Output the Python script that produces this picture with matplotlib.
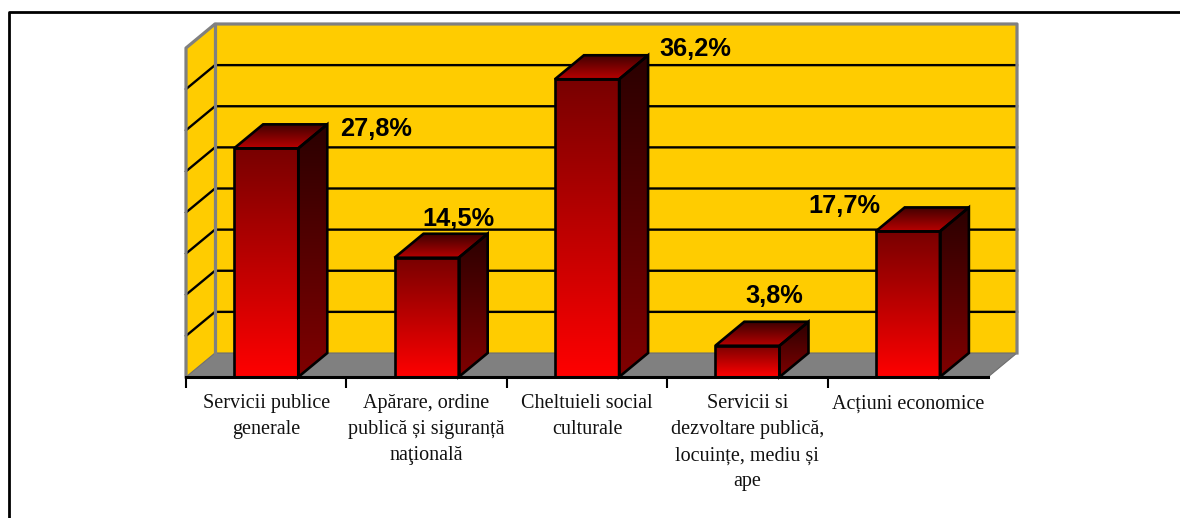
import numpy as np
import matplotlib
matplotlib.use("Agg")
import matplotlib.pyplot as plt
from matplotlib.colors import LinearSegmentedColormap
from matplotlib.patches import Polygon
from matplotlib.lines import Line2D

categories = ["Servicii publice\ngenerale",
              "Apărare, ordine\npublică și siguranță\nnaţională",
              "Cheltuieli social\nculturale",
              "Servicii si\ndezvoltare publică,\nlocuințe, mediu și\nape",
              "Acțiuni economice"]
values = [27.8, 14.5, 36.2, 3.8, 17.7]
value_labels = ["27,8%", "14,5%", "36,2%", "3,8%", "17,7%"]
label_offsets_px = [(110, 19), (32, 39), (108, 30), (27, 50), (-63, 25)]
grid_values = [5, 10, 15, 20, 25, 30, 35]

W, H = 1180, 518
fig = plt.figure(figsize=(W/100, H/100), dpi=100, facecolor="white")
ax = fig.add_axes([186/W, 1-377/H, (988-186)/W, (377-48)/H])
ax.set_facecolor("none")
ax.set_xlim(0, 5)
ax.set_ylim(0, 40)
for s in ["top", "left", "right"]:
    ax.spines[s].set_visible(False)
ax.spines["bottom"].set_linewidth(2.2)
ax.spines["bottom"].set_zorder(20)
ax.set_yticks([])
ax.set_xticks(range(5))
ax.tick_params(axis="x", which="major", length=8, width=1.5, labelbottom=False)
ax.set_xticks(np.arange(5)+0.5, categories, minor=True, fontfamily="Liberation Serif",
              fontsize=14.5, linespacing=1.5)
ax.tick_params(axis="x", which="minor", length=0, pad=12.5, colors="#111111")

dx = 29/160.4   # depth in x units
dy = 24/8.225   # depth in y units
ymax = 40
YEL = "#FFCC00"; GRAY = "#808080"
lw_px = 1.9

# walls
ax.add_patch(Polygon([(dx, dy), (5+dx, dy), (5+dx, ymax+dy), (dx, ymax+dy)], fc=YEL, ec="none", clip_on=False, zorder=1))
ax.add_patch(Polygon([(0, 0), (dx, dy), (dx, ymax+dy), (0, ymax)], fc=YEL, ec="none", clip_on=False, zorder=1))
ax.add_patch(Polygon([(0, 0), (5, 0), (5+dx, dy), (dx, dy)], fc=GRAY, ec="#6e6e6e", lw=0.8, clip_on=False, zorder=2))
for g in grid_values:
    ax.add_line(Line2D([0, dx, 5+dx], [g, g+dy, g+dy], color="black", lw=1.7, clip_on=False, zorder=2))
ax.add_line(Line2D([0, 0, dx, 5+dx, 5+dx], [0, ymax, ymax+dy, ymax+dy, dy], color=GRAY, lw=2.3, clip_on=False, zorder=3))
ax.add_line(Line2D([dx, dx], [dy, ymax+dy], color=GRAY, lw=2.3, clip_on=False, zorder=3))

def cmap(top, bottom):
    return LinearSegmentedColormap.from_list("g", [top, bottom])

def grad_poly(pts, top, bottom):
    pts = np.array(pts)
    x0, x1, y0, y1 = pts[:, 0].min(), pts[:, 0].max(), pts[:, 1].min(), pts[:, 1].max()
    im = ax.imshow(np.linspace(0, 1, 256)[:, None], cmap=cmap(top, bottom), extent=[x0, x1, y0, y1],
                   origin="upper", aspect="auto", zorder=5, clip_on=True)
    p = Polygon(pts, fc="none", ec="black", lw=lw_px, joinstyle="miter", clip_on=False, zorder=6)
    ax.add_patch(p)
    im.set_clip_path(p)

bw = 0.4
for i, v in enumerate(values):
    l, r = i+0.5-bw/2, i+0.5+bw/2
    grad_poly([(r, 0), (r+dx, dy), (r+dx, v+dy), (r, v)], "#2a0000", "#800000")
    grad_poly([(l, v), (r, v), (r+dx, v+dy), (l+dx, v+dy)], "#400000", "#b80000")
    grad_poly([(l, 0), (r, 0), (r, v), (l, v)], "#780000", "#ff0000")
    ox, oy = label_offsets_px[i]
    ax.annotate(value_labels[i], (i+0.5, v), xytext=(ox*0.72, oy*0.72), textcoords="offset points",
                ha="center", va="center", fontfamily="Liberation Sans", fontweight="bold",
                fontsize=18.3, color="#000000", zorder=10, annotation_clip=False)
ax.set_xlim(0, 5)
ax.set_ylim(0, 40)

# outer frame
fig.add_artist(Line2D([9/W, 9/W, 1], [0, 1-12/H, 1-12/H], color="black", lw=2.0, transform=fig.transFigure))

fig.savefig("out.png", dpi=100)
